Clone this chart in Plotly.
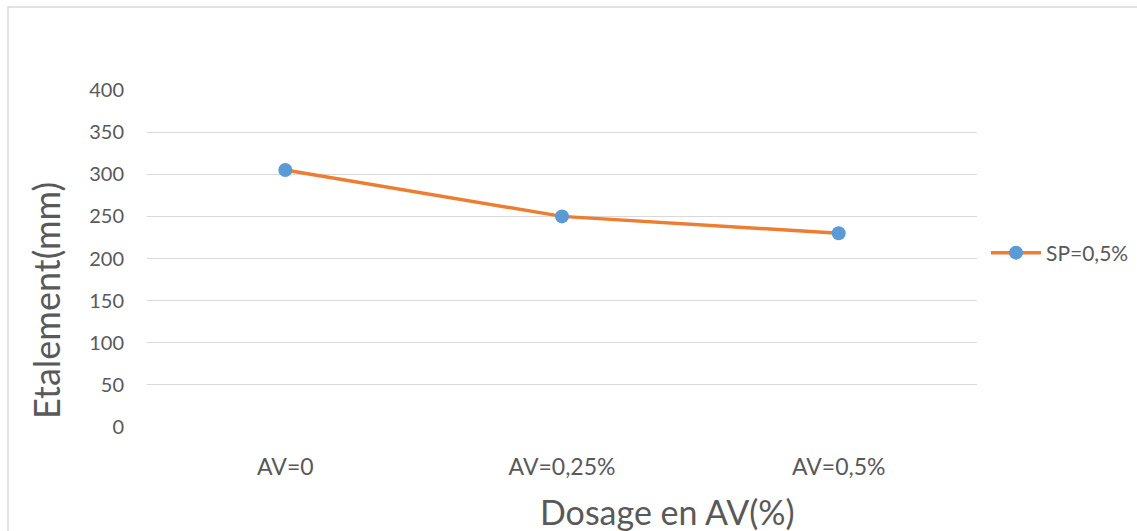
import plotly.graph_objects as go

# Spread (mm) as a function of AV dosage, SP fixed at 0.5 %
categories = ["AV=0", "AV=0,25%", "AV=0,5%"]
etalement = [305, 250, 230]
series_name = "SP=0,5%"
y_ticks = [0, 50, 100, 150, 200, 250, 300, 350, 400]

TEXT = "#595959"
FONT = "Lato"

# plot-area placement in pixels
W, H = 1137, 531
L, R, T, B = 147, 160, 90, 104
pw, ph = W - L - R, H - T - B


def px_x(x):
    return (x - L) / pw


def px_y(y):
    return (H - B - y) / ph


fig = go.Figure()
fig.add_trace(go.Scatter(
    x=list(range(len(categories))),
    y=etalement,
    mode="lines+markers",
    name=series_name,
    line=dict(color="#ED7D31", width=3.5),
    marker=dict(color="#5B9BD5", size=14),
))

fig.update_layout(
    width=W, height=H,
    margin=dict(l=L, r=R, t=T, b=B, autoexpand=False),
    paper_bgcolor="white",
    plot_bgcolor="white",
    font=dict(family=FONT, color=TEXT, size=16),
    showlegend=True,
    legend=dict(
        x=px_x(986), y=px_y(253), xanchor="left", yanchor="middle",
        font=dict(size=21, color=TEXT, family=FONT),
        bgcolor="rgba(0,0,0,0)",
        itemwidth=50,
    ),
    xaxis=dict(
        range=[-0.5, 2.5],
        tickmode="array",
        tickvals=list(range(len(categories))),
        ticktext=categories,
        showgrid=False,
        zeroline=False,
        showline=False,
        ticks="",
        ticklabelstandoff=24,
        tickfont=dict(size=23, color=TEXT, family=FONT),
    ),
    yaxis=dict(
        range=[0, 400],
        tickmode="array",
        tickvals=y_ticks,
        showgrid=True,
        gridcolor="#d9d9d9",
        gridwidth=1.3,
        zeroline=False,
        showline=False,
        ticks="",
        ticklabelstandoff=22,
        tickfont=dict(size=20, color=TEXT, family=FONT),
    ),
    annotations=[
        dict(text="Dosage en AV(%)", xref="paper", yref="paper",
             x=px_x(667), y=px_y(511), xanchor="center", yanchor="middle",
             showarrow=False, font=dict(size=34, color=TEXT, family=FONT)),
        dict(text="Etalement(mm)", xref="paper", yref="paper",
             x=px_x(46), y=px_y(301), xanchor="center", yanchor="middle",
             textangle=-90, showarrow=False,
             font=dict(size=36, color=TEXT, family=FONT)),
    ],
    shapes=[
        dict(type="rect", xref="paper", yref="paper",
             x0=px_x(8), x1=px_x(1145), y0=px_y(540), y1=px_y(7),
             line=dict(color="#d9d9d9", width=1.5), fillcolor="rgba(0,0,0,0)",
             layer="below"),
    ],
)

fig.write_html("out.html")
